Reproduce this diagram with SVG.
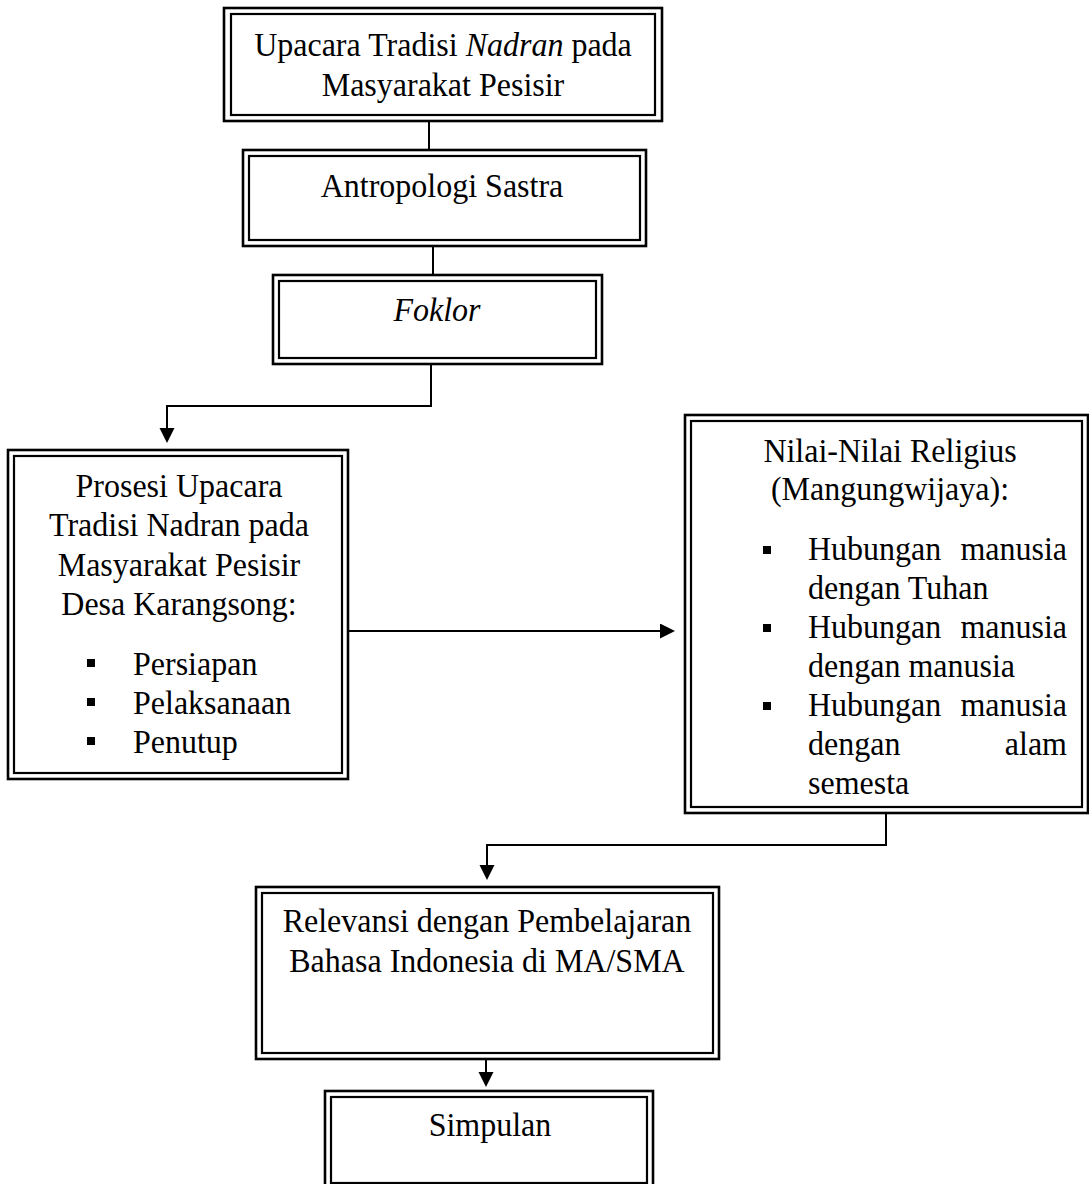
<svg xmlns="http://www.w3.org/2000/svg" width="1089" height="1184" viewBox="0 0 1089 1184">
<style>
  .o { fill: none; stroke: #000; stroke-width: 2.6; }
  .i { fill: none; stroke: #000; stroke-width: 2.2; }
  .t { font-family: "Liberation Serif", "Times New Roman", serif; font-size: 32px; fill: #000; }
  .c { text-anchor: middle; }
  .e { text-anchor: end; }
  .it { font-style: italic; }
  .b { fill: #000; }
  .ln { fill: none; stroke: #000; stroke-width: 2; }
</style>
<defs>
  <marker id="arr" markerUnits="userSpaceOnUse" markerWidth="16" markerHeight="16" refX="5" refY="7.5" orient="auto">
    <path d="M0,0 L15,7.5 L0,15 Z" fill="#000"/>
  </marker>
</defs>
<rect width="1089" height="1184" fill="#fff"/>

<g id="connectors">
  <path class="ln" d="M429,121 V150"/>
  <path class="ln" d="M433,246 V275"/>
  <path class="ln" d="M431,364 V406 H167 V433" marker-end="url(#arr)"/>
  <path class="ln" d="M348,631 H665" marker-end="url(#arr)"/>
  <path class="ln" d="M886,813 V845 H487 V870" marker-end="url(#arr)"/>
  <path class="ln" d="M486,1059 V1077" marker-end="url(#arr)"/>
</g>

<g id="node-upacara">
  <rect class="o" x="224" y="8" width="438" height="113"/>
  <rect class="i" x="231" y="14" width="424" height="101"/>
  <text class="t c" x="443" y="56" transform="matrix(1,0,0,1.08,0,-4.48)">Upacara Tradisi <tspan class="it">Nadran</tspan> pada</text>
  <text class="t c" x="443" y="96" transform="matrix(1,0,0,1.08,0,-7.68)">Masyarakat Pesisir</text>
</g>

<g id="node-antropologi">
  <rect class="o" x="243" y="150" width="403" height="96"/>
  <rect class="i" x="249" y="156" width="391" height="84"/>
  <text class="t c" x="442" y="197" transform="matrix(1,0,0,1.08,0,-15.76)">Antropologi Sastra</text>
</g>

<g id="node-foklor">
  <rect class="o" x="273" y="275" width="329" height="89"/>
  <rect class="i" x="279" y="281" width="317" height="77"/>
  <text class="t c it" x="437" y="321" transform="matrix(1,0,0,1.08,0,-25.68)">Foklor</text>
</g>

<g id="node-prosesi">
  <rect class="o" x="8" y="450" width="340" height="329"/>
  <rect class="i" x="14" y="456" width="328" height="317"/>
  <text class="t c" x="179" y="497" transform="matrix(1,0,0,1.08,0,-39.76)">Prosesi Upacara</text>
  <text class="t c" x="179" y="536" transform="matrix(1,0,0,1.08,0,-42.88)">Tradisi Nadran pada</text>
  <text class="t c" x="179" y="576" transform="matrix(1,0,0,1.08,0,-46.08)">Masyarakat Pesisir</text>
  <text class="t c" x="179" y="615" transform="matrix(1,0,0,1.08,0,-49.2)">Desa Karangsong:</text>
  <rect class="b" x="87" y="659" width="8" height="8"/>
  <text class="t" x="133" y="675" transform="matrix(1,0,0,1.08,0,-54)">Persiapan</text>
  <rect class="b" x="87" y="698" width="8" height="8"/>
  <text class="t" x="133" y="714" transform="matrix(1,0,0,1.08,0,-57.12)">Pelaksanaan</text>
  <rect class="b" x="87" y="737" width="8" height="8"/>
  <text class="t" x="133" y="753" transform="matrix(1,0,0,1.08,0,-60.24)">Penutup</text>
</g>

<g id="node-nilai">
  <rect class="o" x="685" y="415" width="403" height="398"/>
  <rect class="i" x="691" y="421" width="391" height="386"/>
  <text class="t c" x="890" y="462" transform="matrix(1,0,0,1.08,0,-36.96)">Nilai-Nilai Religius</text>
  <text class="t c" x="890" y="500" transform="matrix(1,0,0,1.08,0,-40)">(Mangungwijaya):</text>
  <rect class="b" x="763" y="546" width="8" height="8"/>
  <text class="t" x="808" y="560" transform="matrix(1,0,0,1.08,0,-44.8)">Hubungan</text>
  <text class="t e" x="1067" y="560" transform="matrix(1,0,0,1.08,0,-44.8)">manusia</text>
  <text class="t" x="808" y="599" transform="matrix(1,0,0,1.08,0,-47.92)">dengan Tuhan</text>
  <rect class="b" x="763" y="624" width="8" height="8"/>
  <text class="t" x="808" y="638" transform="matrix(1,0,0,1.08,0,-51.04)">Hubungan</text>
  <text class="t e" x="1067" y="638" transform="matrix(1,0,0,1.08,0,-51.04)">manusia</text>
  <text class="t" x="808" y="677" transform="matrix(1,0,0,1.08,0,-54.16)">dengan manusia</text>
  <rect class="b" x="763" y="702" width="8" height="8"/>
  <text class="t" x="808" y="716" transform="matrix(1,0,0,1.08,0,-57.28)">Hubungan</text>
  <text class="t e" x="1067" y="716" transform="matrix(1,0,0,1.08,0,-57.28)">manusia</text>
  <text class="t" x="808" y="755" transform="matrix(1,0,0,1.08,0,-60.4)">dengan</text>
  <text class="t e" x="1067" y="755" transform="matrix(1,0,0,1.08,0,-60.4)">alam</text>
  <text class="t" x="808" y="794" transform="matrix(1,0,0,1.08,0,-63.52)">semesta</text>
</g>

<g id="node-relevansi">
  <rect class="o" x="256" y="887" width="463" height="172"/>
  <rect class="i" x="262" y="893" width="451" height="160"/>
  <text class="t c" x="487" y="932" transform="matrix(1,0,0,1.08,0,-74.56)">Relevansi dengan Pembelajaran</text>
  <text class="t c" x="487" y="972" transform="matrix(1,0,0,1.08,0,-77.76)">Bahasa Indonesia di MA/SMA</text>
</g>

<g id="node-simpulan">
  <rect class="o" x="325" y="1091" width="328" height="100"/>
  <rect class="i" x="331" y="1097" width="316" height="86"/>
  <text class="t c" x="490" y="1136" transform="matrix(1,0,0,1.08,0,-90.88)">Simpulan</text>
</g>
</svg>
